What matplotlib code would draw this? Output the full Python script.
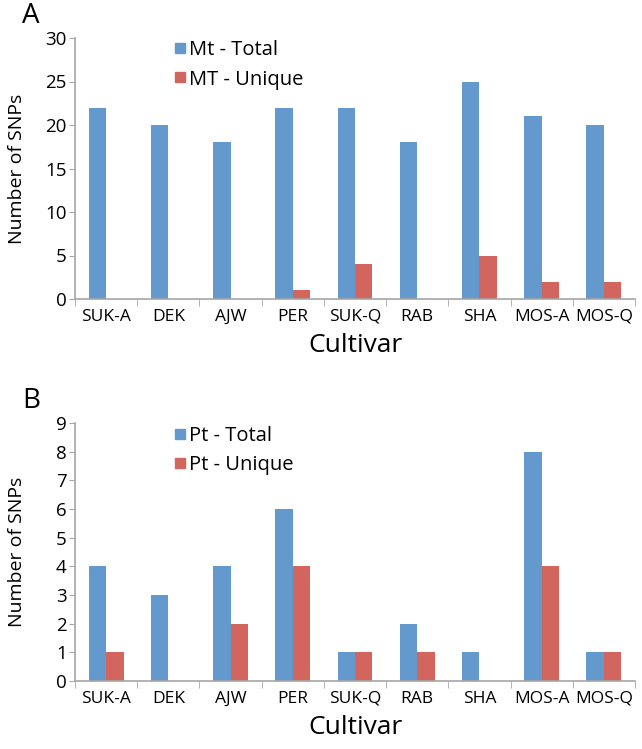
import numpy as np
import matplotlib.pyplot as plt
from matplotlib.lines import Line2D

plt.rcParams['font.family'] = ['Open Sans', 'DejaVu Sans']

cultivars = ['SUK-A', 'DEK', 'AJW', 'PER', 'SUK-Q', 'RAB', 'SHA', 'MOS-A', 'MOS-Q']
mt_total = [22, 20, 18, 22, 22, 18, 25, 21, 20]
mt_unique = [0, 0, 0, 1, 4, 0, 5, 2, 2]
pt_total = [4, 3, 4, 6, 1, 2, 1, 8, 1]
pt_unique = [1, 0, 2, 4, 1, 1, 0, 4, 1]

blue = '#6399CD'
red = '#D2665F'
grey = '#A6A6A6'

fig = plt.figure(figsize=(6.42, 7.49), dpi=100)
ax_a = fig.add_axes([75 / 642, 1 - 299 / 749, 560 / 642, 261 / 749])
ax_b = fig.add_axes([75 / 642, 1 - 681 / 749, 560 / 642, 258 / 749])

panels = [
    (ax_a, mt_total, mt_unique, 'Mt - Total', 'MT - Unique', 30, 5, 'A'),
    (ax_b, pt_total, pt_unique, 'Pt - Total', 'Pt - Unique', 9, 1, 'B'),
]

x = np.arange(len(cultivars))
w = 0.28
for ax, tot, uni, l1, l2, ymax, step, letter in panels:
    ax.bar(x - w / 2, tot, w, color=blue)
    ax.bar(x + w / 2, uni, w, color=red)
    ax.set_xlim(-0.5, len(cultivars) - 0.5)
    ax.set_ylim(0, ymax)
    ax.set_yticks(np.arange(0, ymax + 1, step))
    ax.set_xticks(x)
    ax.set_xticklabels(cultivars)
    ax.set_xticks(np.arange(-0.5, len(cultivars), 1), minor=True)
    ax.tick_params(axis='x', which='major', length=0, labelsize=12.5, pad=7)
    ax.tick_params(axis='x', which='minor', length=5, color=grey, direction='out')
    ax.tick_params(axis='y', length=4, color=grey, labelsize=13.5, pad=2)
    for s in ['top', 'right']:
        ax.spines[s].set_visible(False)
    for s in ['left', 'bottom']:
        ax.spines[s].set_color(grey)
        ax.spines[s].set_linewidth(1.2)
    ax.set_xlabel('Cultivar', fontsize=19, labelpad=6)
    ax.set_ylabel('Number of SNPs', fontsize=14)
    ax.yaxis.set_label_coords(-0.088, 0.5)
    handles = [Line2D([], [], marker='s', linestyle='none', color=blue, markersize=7),
               Line2D([], [], marker='s', linestyle='none', color=red, markersize=7)]
    ax.legend(handles, [l1, l2], loc='upper left', bbox_to_anchor=(0.14, 1.06),
              frameon=False, fontsize=14.5, handletextpad=0.05, handlelength=0.8,
              labelspacing=0.45)
    ax.text(-0.095, 1.085, letter, transform=ax.transAxes, fontsize=20,
            ha='left', va='center')

fig.savefig('out.png', dpi=100)
